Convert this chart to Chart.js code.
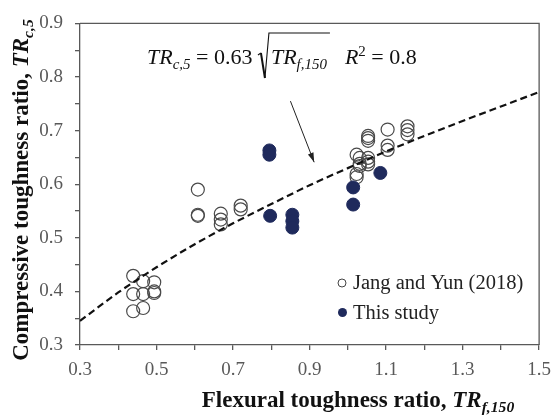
<!DOCTYPE html>
<html>
<head>
<meta charset="utf-8">
<script src="https://cdn.jsdelivr.net/npm/chart.js@4.4.1/dist/chart.umd.min.js"></script>
<style>
  html, body { margin: 0; padding: 0; background: #fff; }
  #wrap { width: 560px; height: 418px; }
</style>
</head>
<body>
<div id="wrap"><canvas id="c" width="560" height="418"></canvas></div>
<script>
// Jang and Yun (2018) - open circles
const jangX = [0.439, 0.465, 0.494, 0.439, 0.465, 0.494, 0.494, 0.439, 0.465,
               0.608, 0.608, 0.608, 0.668, 0.668, 0.668, 0.720, 0.720,
               1.023, 1.031, 1.053, 1.031, 1.053, 1.031, 1.053, 1.023, 1.023,
               1.053, 1.053, 1.053, 1.104, 1.104, 1.104, 1.156, 1.156, 1.156];
const jangY = [0.429, 0.419, 0.417, 0.395, 0.395, 0.400, 0.397, 0.363, 0.369,
               0.590, 0.541, 0.543, 0.545, 0.534, 0.525, 0.560, 0.553,
               0.655, 0.649, 0.649, 0.638, 0.642, 0.634, 0.637, 0.619, 0.613,
               0.690, 0.686, 0.681, 0.702, 0.672, 0.664, 0.708, 0.701, 0.693];

// This study - filled circles
const studyX = [0.795, 0.795, 0.797, 0.855, 0.855, 0.855, 1.014, 1.014, 1.085];
const studyY = [0.663, 0.655, 0.541, 0.543, 0.531, 0.519, 0.594, 0.562, 0.621];

// dashed fit curve
const fitX = [0.3, 0.4, 0.5, 0.6, 0.7, 0.8, 0.9, 1.0, 1.1, 1.2, 1.3, 1.4, 1.5];
const fitY = [0.345, 0.398, 0.445, 0.488, 0.527, 0.563, 0.598, 0.630, 0.661, 0.690, 0.718, 0.745, 0.772];

const legendLabels = ['Jang and Yun (2018)', 'This study'];

const toPts = (xs, ys) => xs.map((x, i) => ({ x: x, y: ys[i] }));

const AXIS = '#595959';
const NAVY = '#1f2a5c';
const SERIF = '"Liberation Serif", "Times New Roman", serif';

// draw a run of text pieces (normal / sub / sup) starting at x, baseline y
function drawRun(ctx, parts, x, y, size, weight) {
    parts.forEach(p => {
        const s = p.sub || p.sup ? size * 0.68 : size;
        ctx.font = (p.it ? 'italic ' : '') + (weight || '') + ' ' + s + 'px ' + SERIF;
        let yy = y;
        if (p.sub) yy = y + size * 0.22;
        if (p.sup) yy = y - size * 0.38;
        ctx.fillText(p.t, x, yy);
        x += ctx.measureText(p.t).width;
    });
    return x;
}
function runWidth(ctx, parts, size, weight) {
    let w = 0;
    parts.forEach(p => {
        const s = p.sub || p.sup ? size * 0.68 : size;
        ctx.font = (p.it ? 'italic ' : '') + (weight || '') + ' ' + s + 'px ' + SERIF;
        w += ctx.measureText(p.t).width;
    });
    return w;
}

const extras = {
    id: 'extras',
    afterDraw(chart) {
        const ctx = chart.ctx;
        const a = chart.chartArea;
        const xs = chart.scales.x, ys = chart.scales.y;
        ctx.save();

        // frame top/right
        ctx.strokeStyle = AXIS;
        ctx.lineWidth = 1.3;
        ctx.beginPath();
        ctx.moveTo(a.left, a.top); ctx.lineTo(a.right, a.top); ctx.lineTo(a.right, a.bottom);
        ctx.stroke();

        // arrow
        const x1 = xs.getPixelForValue(0.85), y1 = ys.getPixelForValue(0.755);
        const x2 = xs.getPixelForValue(0.912), y2 = ys.getPixelForValue(0.641);
        ctx.strokeStyle = '#222'; ctx.fillStyle = '#222'; ctx.lineWidth = 1;
        ctx.beginPath(); ctx.moveTo(x1, y1); ctx.lineTo(x2, y2); ctx.stroke();
        const ang = Math.atan2(y2 - y1, x2 - x1);
        ctx.beginPath();
        ctx.moveTo(x2, y2);
        ctx.lineTo(x2 - 10 * Math.cos(ang - 0.3), y2 - 10 * Math.sin(ang - 0.3));
        ctx.lineTo(x2 - 10 * Math.cos(ang + 0.3), y2 - 10 * Math.sin(ang + 0.3));
        ctx.closePath(); ctx.fill();

        // equation
        ctx.fillStyle = '#111';
        ctx.textBaseline = 'alphabetic';
        const eqSize = 22, base = 64;
        let x = drawRun(ctx, [{ t: 'TR', it: true }, { t: 'c,5', it: true, sub: true }, { t: ' = 0.63 ' }], 147, base, eqSize);
        // radical
        const radStart = x;
        const inner = [{ t: 'TR', it: true }, { t: 'f,150', it: true, sub: true }];
        const innerW = runWidth(ctx, inner, eqSize);
        ctx.strokeStyle = '#111'; ctx.lineWidth = 1.2;
        ctx.beginPath();
        ctx.moveTo(radStart, base - 9);
        ctx.lineTo(radStart + 3, base - 11);
        ctx.stroke();
        ctx.lineWidth = 2;
        ctx.beginPath();
        ctx.moveTo(radStart + 3, base - 11);
        ctx.lineTo(radStart + 7, base + 14);
        ctx.stroke();
        ctx.lineWidth = 1.1;
        ctx.beginPath();
        ctx.moveTo(radStart + 7, base + 14);
        ctx.lineTo(radStart + 11, 33);
        ctx.lineTo(radStart + 14 + innerW + 2, 33);
        ctx.stroke();
        x = drawRun(ctx, inner, radStart + 13, base, eqSize);
        drawRun(ctx, [{ t: 'R', it: true }, { t: '2', sup: true }, { t: ' = 0.8' }], x + 18, base, eqSize);

        // legend
        const lg = 20.5;
        ctx.font = lg + 'px ' + SERIF;
        ctx.textBaseline = 'middle';
        ctx.fillStyle = '#222';
        ctx.fillText(legendLabels[0], 353, 284);
        ctx.fillText(legendLabels[1], 353, 314);
        ctx.strokeStyle = '#444'; ctx.lineWidth = 1;
        ctx.beginPath(); ctx.arc(342, 283, 4, 0, Math.PI * 2); ctx.stroke();
        ctx.fillStyle = NAVY;
        ctx.beginPath(); ctx.arc(342.5, 312.5, 4.5, 0, Math.PI * 2); ctx.fill();

        // axis titles
        ctx.fillStyle = '#111';
        ctx.textBaseline = 'alphabetic';
        const tSize = 23;
        const xt = [{ t: 'Flexural toughness ratio, ' }, { t: 'TR', it: true }, { t: 'f,150', it: true, sub: true }];
        const xw = runWidth(ctx, xt, tSize, 'bold');
        drawRun(ctx, xt, 358 - xw / 2, 407, tSize, 'bold');

        const yt = [{ t: 'Compressive toughness ratio, ' }, { t: 'TR', it: true }, { t: 'c,5', it: true, sub: true }];
        const yw = runWidth(ctx, yt, tSize, 'bold');
        ctx.translate(28, 190);
        ctx.rotate(-Math.PI / 2);
        drawRun(ctx, yt, -yw / 2, 0, tSize, 'bold');
        ctx.restore();
    }
};

new Chart(document.getElementById('c'), {
    type: 'scatter',
    data: {
        datasets: [
            {
                label: 'fit',
                type: 'line',
                data: toPts(fitX, fitY),
                borderColor: '#111',
                borderWidth: 2.2,
                borderDash: [7, 4],
                pointRadius: 0,
                fill: false,
                tension: 0.4,
                cubicInterpolationMode: 'monotone',
                order: 0
            },
            {
                label: legendLabels[1],
                data: toPts(studyX, studyY),
                backgroundColor: NAVY,
                borderColor: NAVY,
                borderWidth: 1,
                pointRadius: 6.5,
                order: 1
            },
            {
                label: legendLabels[0],
                data: toPts(jangX, jangY),
                backgroundColor: 'rgba(0,0,0,0)',
                borderColor: '#4a4a4a',
                borderWidth: 1.2,
                pointRadius: 6.5,
                order: 2
            }
        ]
    },
    options: {
        responsive: false,
        animation: false,
        layout: { padding: { top: 14, right: 15, left: 0, bottom: 0 } },
        plugins: { legend: { display: false }, tooltip: { enabled: false } },
        scales: {
            x: {
                type: 'linear', min: 0.3, max: 1.5,
                afterFit: s => { s.height = 73; },
                border: { display: true, color: AXIS, width: 1.3 },
                grid: { drawOnChartArea: false, drawTicks: true, tickLength: 5, color: AXIS, lineWidth: 1.3 },
                ticks: {
                    stepSize: 0.1, padding: 9, color: AXIS,
                    font: { family: SERIF, size: 19 },
                    callback: v => (Math.round(v * 10) % 2 === 1 ? v.toFixed(1) : '')
                }
            },
            y: {
                type: 'linear', min: 0.3, max: 0.9,
                afterFit: s => { s.width = 80; },
                border: { display: true, color: AXIS, width: 1.3 },
                grid: { drawOnChartArea: false, drawTicks: true, tickLength: 5, color: AXIS, lineWidth: 1.3 },
                ticks: {
                    stepSize: 0.05, padding: 12, color: AXIS,
                    font: { family: SERIF, size: 19 },
                    callback: v => (Math.round(v * 100) % 10 === 0 ? v.toFixed(1) : '')
                }
            }
        }
    },
    plugins: [extras]
});
</script>
</body>
</html>
